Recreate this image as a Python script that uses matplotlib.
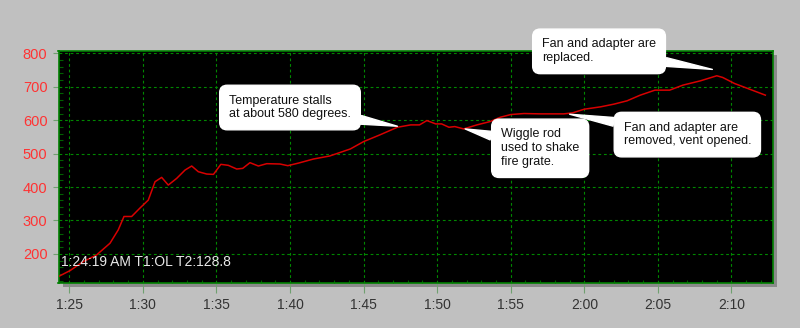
import matplotlib
matplotlib.use("Agg")
import matplotlib.pyplot as plt
from matplotlib.patches import Rectangle
from matplotlib.ticker import MultipleLocator, FuncFormatter

plt.rcParams['font.family'] = ['Liberation Sans', 'DejaVu Sans']

# minutes after midnight and temperature readings
minutes = [84.25, 85.05, 85.95, 86.86, 87.77, 88.33, 88.72, 89.24, 89.80, 90.37,
           90.83, 91.28, 91.73, 92.30, 92.87, 93.32, 93.77, 94.34, 94.80, 95.30,
           95.81, 96.38, 96.79, 97.28, 97.85, 98.42, 99.32, 99.85, 100.6, 101.6,
           102.7, 104.1, 105.0, 106.1, 107.3, 108.2, 108.8, 109.3, 109.9, 110.3,
           110.8, 111.2, 111.8, 112.7, 113.6, 114.3, 115.0, 115.9, 117.0, 118.6,
           119.2, 120.0, 121.1, 122.0, 122.9, 123.8, 124.8, 125.8, 126.7, 127.9,
           129.0, 129.4, 130.2, 131.1, 132.3]
temps = [132, 150, 177, 197, 232, 272, 312, 312, 337, 361,
         416, 429, 406, 426, 451, 463, 446, 439, 438, 468,
         465, 454, 456, 473, 463, 470, 469, 464, 472, 484,
         493, 514, 536, 556, 579, 586, 586, 599, 589, 589,
         579, 581, 574, 586, 596, 609, 617, 620, 619, 619,
         622, 633, 640, 648, 658, 675, 690, 690, 705, 718,
         733, 728, 710, 695, 675]

status = "1:24:19 AM T1:OL T2:128.8"

# (text, point on curve, box centre)
notes = [
    ("Temperature stalls\nat about 580 degrees.", (107.3, 582), (100.0, 638)),
    ("Wiggle rod\nused to shake\nfire grate.", (111.9, 574), (117.0, 516)),
    ("Fan and adapter are\nreplaced.", (128.7, 752), (121.0, 806)),
    ("Fan and adapter are\nremoved, vent opened.", (119.0, 618), (127.0, 557)),
]

W, H = 800, 328
fig = plt.figure(figsize=(W / 100, H / 100), dpi=100, facecolor='#c0c0c0')
l, r, t, b = 58.5, 772.7, 50.7, 283
ax = fig.add_axes([l / W, 1 - b / H, (r - l) / W, (b - t) / H])

# drop shadow
fig.patches.append(Rectangle(((l + 4) / W, 1 - (b + 4) / H), (r - l) / W, (b - t) / H,
                             transform=fig.transFigure, fc='#8a8a8a', ec='none', zorder=-1))

ax.set_facecolor('black')
ax.plot(minutes, temps, color='#d80000', lw=1.1, zorder=3)

ax.set_xlim(84.27, 132.8)
ax.set_ylim(113, 808)
ax.xaxis.set_major_locator(MultipleLocator(5))
ax.xaxis.set_minor_locator(MultipleLocator(1))
ax.yaxis.set_major_locator(MultipleLocator(100))
ax.yaxis.set_minor_locator(MultipleLocator(20))
ax.xaxis.set_major_formatter(FuncFormatter(lambda v, p: "%d:%02d" % (int(round(v)) // 60, int(round(v)) % 60)))
ax.yaxis.set_major_formatter(FuncFormatter(lambda v, p: "%d" % v if v >= 200 else ""))

ax.grid(True, which='major', color='#008800', ls=(0, (2.5, 2.5)), lw=0.8)
for s in ax.spines.values():
    s.set_color('#008000')
    s.set_linewidth(1.2)

ax.tick_params(axis='x', which='major', direction='out', length=7, color='#70a070',
               width=0.8, labelsize=10, labelcolor='#333333', pad=4)
ax.tick_params(axis='y', which='major', direction='out', length=4, color='#70a070',
               width=0.8, labelsize=10.5, labelcolor='#ff3333', pad=4)
ax.tick_params(axis='x', which='minor', direction='in', length=2.5, color='#006000', width=0.8)
ax.tick_params(axis='y', which='minor', direction='in', length=3, color='#006000', width=0.8)

ax.text(0.003, 0.092, status, transform=ax.transAxes, color='#e8e8e8', fontsize=10,
        ha='left', va='center', zorder=5)

for txt, pt, box in notes:
    ax.annotate(txt, xy=pt, xytext=box, textcoords='data', ha='center', va='center',
                multialignment='left', fontsize=9, color='#111111', zorder=6,
                annotation_clip=False,
                bbox=dict(boxstyle='round,pad=0.75,rounding_size=0.6', fc='white', ec='white'),
                arrowprops=dict(arrowstyle='wedge,tail_width=0.7,shrink_factor=0.5',
                                fc='white', ec='white', shrinkA=0, shrinkB=0))

fig.savefig('out.png', dpi=100, facecolor=fig.get_facecolor())
